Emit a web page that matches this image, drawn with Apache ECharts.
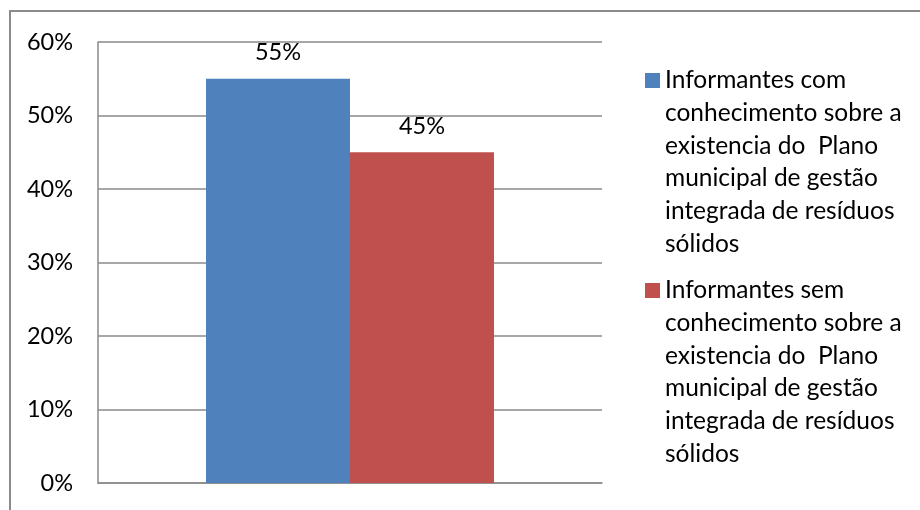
<!DOCTYPE html>
<html>
<head>
<meta charset="utf-8">
<script src="https://cdn.jsdelivr.net/npm/echarts@6/dist/echarts.min.js"></script>
<style>
html,body{margin:0;padding:0;background:#fff;}
#chart{width:920px;height:510px;}
</style>
</head>
<body>
<div id="chart"></div>
<script>
const categories = [''];
const seriesNames = [
  'Informantes com\nconhecimento sobre a\nexistencia do  Plano\nmunicipal de gestão\nintegrada de resíduos\nsólidos',
  'Informantes sem\nconhecimento sobre a\nexistencia do  Plano\nmunicipal de gestão\nintegrada de resíduos\nsólidos'
];
const comValues = [55];
const semValues = [45];
const yTicks = [0, 10, 20, 30, 40, 50, 60];

const FONT = 'Lato';
const LH = 32.7;
const iconPath = 'path://M0,0h0.01M0,8.85h15v15h-15zM0,196.2h0.01';

const chart = echarts.init(document.getElementById('chart'), null, {renderer: 'canvas'});
chart.setOption({
  animation: false,
  backgroundColor: '#ffffff',
  textStyle: {fontFamily: FONT},
  graphic: [{
    type: 'rect',
    shape: {x: 10, y: 11, width: 1000, height: 1000},
    style: {fill: 'none', stroke: '#8a8a8a', lineWidth: 2},
    silent: true
  }],
  grid: {left: 98, right: 318, top: 42, bottom: 27, containLabel: false},
  legend: {
    orient: 'vertical',
    left: 645,
    top: 64,
    padding: 0,
    itemGap: 13.8,
    itemWidth: 15,
    itemHeight: 196,
    symbolKeepAspect: false,
    data: [
      {name: seriesNames[0], icon: iconPath},
      {name: seriesNames[1], icon: iconPath}
    ],
    textStyle: {fontFamily: FONT, fontSize: 24.5, color: '#000', lineHeight: LH}
  },
  xAxis: {
    type: 'category',
    data: categories,
    axisLine: {show: true, lineStyle: {color: '#8a8a8a', width: 1.5}},
    axisTick: {show: false},
    axisLabel: {show: false}
  },
  yAxis: {
    type: 'value',
    min: yTicks[0],
    max: yTicks[yTicks.length - 1],
    interval: 10,
    axisLine: {show: true, lineStyle: {color: '#8a8a8a', width: 1.5}},
    axisTick: {show: false},
    splitLine: {show: true, lineStyle: {color: '#8a8a8a', width: 1.5}},
    axisLabel: {
      formatter: v => v + '%',
      fontFamily: FONT,
      fontSize: 23.5,
      color: '#000',
      margin: 25
    }
  },
  series: [
    {
      name: seriesNames[0],
      type: 'bar',
      data: comValues,
      barWidth: 144,
      barGap: '0%',
      itemStyle: {color: '#4F81BD'},
      label: {show: true, position: 'top', distance: 14, formatter: p => p.value + '%', fontFamily: FONT, fontSize: 23.5, color: '#000'}
    },
    {
      name: seriesNames[1],
      type: 'bar',
      data: semValues,
      barWidth: 144,
      barGap: '0%',
      itemStyle: {color: '#C0504D'},
      label: {show: true, position: 'top', distance: 14, formatter: p => p.value + '%', fontFamily: FONT, fontSize: 23.5, color: '#000'}
    }
  ]
});
</script>
</body>
</html>
